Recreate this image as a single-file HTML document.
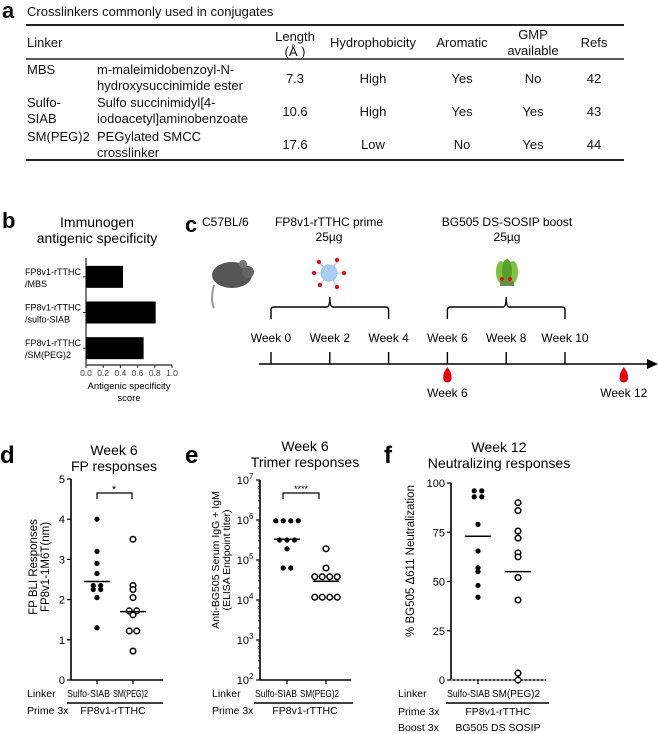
<!DOCTYPE html>
<html><head><meta charset="utf-8"><style>
body{margin:0;background:#fff}
svg{display:block;font-family:"Liberation Sans",Arial,sans-serif}
</style></head><body>
<svg id="fig" width="658" height="734" viewBox="0 0 658 734" xmlns="http://www.w3.org/2000/svg">
<g font-size="13" fill="#111">
<text x="2" y="18" font-size="22" font-weight="bold">a</text>
<text x="27" y="16">Crosslinkers commonly used in conjugates</text>
<line x1="26" y1="25" x2="624" y2="25" stroke="#222" stroke-width="2"/>
<line x1="26" y1="59" x2="624" y2="59" stroke="#222" stroke-width="1.5"/>
<line x1="26" y1="160" x2="624" y2="160" stroke="#222" stroke-width="2"/>
<g>
<text x="27" y="47">Linker</text>
<text x="295" y="41" text-anchor="middle">Length</text>
<text x="295" y="56" text-anchor="middle">(Å )</text>
<text x="373" y="47" text-anchor="middle">Hydrophobicity</text>
<text x="462" y="47" text-anchor="middle">Aromatic</text>
<text x="533" y="39" text-anchor="middle">GMP</text>
<text x="533" y="55" text-anchor="middle">available</text>
<text x="594" y="47" text-anchor="middle">Refs</text>
</g>
<g>
<text x="27" y="74">MBS</text>
<text x="97" y="74">m-maleimidobenzoyl-N-</text>
<text x="97" y="90">hydroxysuccinimide ester</text>
<text x="295" y="83" text-anchor="middle">7.3</text>
<text x="373" y="83" text-anchor="middle">High</text>
<text x="462" y="83" text-anchor="middle">Yes</text>
<text x="533" y="83" text-anchor="middle">No</text>
<text x="594" y="83" text-anchor="middle">42</text>
</g>
<g>
<text x="27" y="107">Sulfo-</text>
<text x="27" y="123">SIAB</text>
<text x="97" y="107">Sulfo succinimidyl[4-</text>
<text x="97" y="123">iodoacetyl]aminobenzoate</text>
<text x="295" y="116" text-anchor="middle">10.6</text>
<text x="373" y="116" text-anchor="middle">High</text>
<text x="462" y="116" text-anchor="middle">Yes</text>
<text x="533" y="116" text-anchor="middle">Yes</text>
<text x="594" y="116" text-anchor="middle">43</text>
</g>
<g>
<text x="27" y="141">SM(PEG)2</text>
<text x="97" y="141">PEGylated SMCC</text>
<text x="97" y="157">crosslinker</text>
<text x="295" y="149" text-anchor="middle">17.6</text>
<text x="373" y="149" text-anchor="middle">Low</text>
<text x="462" y="149" text-anchor="middle">No</text>
<text x="533" y="149" text-anchor="middle">Yes</text>
<text x="594" y="149" text-anchor="middle">44</text>
</g>
</g>

<g id="pb">
<text x="2" y="228" font-size="22" font-weight="bold">b</text>
<text x="97" y="227" font-size="14" text-anchor="middle">Immunogen</text>
<text x="97" y="243" font-size="14" text-anchor="middle">antigenic specificity</text>
<text x="129" y="389" font-size="9.5" text-anchor="middle">Antigenic specificity</text>
<text x="129" y="401" font-size="9.5" text-anchor="middle">score</text>
</g>

<g id="pc">
<text x="185" y="232" font-size="22" font-weight="bold">c</text>
<text x="202" y="226" font-size="12">C57BL/6</text>
<text x="329" y="226" font-size="12" text-anchor="middle">FP8v1-rTTHC prime</text>
<text x="329" y="241" font-size="12" text-anchor="middle">25µg</text>
<text x="507" y="226" font-size="12" text-anchor="middle">BG505 DS-SOSIP boost</text>
<text x="507" y="241" font-size="12" text-anchor="middle">25µg</text>
<g>
<path d="M214 285 Q210 300 214 308" stroke="#999" stroke-width="2" fill="none"/>
<ellipse cx="232" cy="275" rx="20" ry="13" fill="#555"/>
<ellipse cx="248" cy="272" rx="6" ry="6" fill="#666"/>
<circle cx="243" cy="264" r="4" fill="#777"/>
</g>
<g stroke="#9bc3e8" stroke-width="1">
<line x1="329" y1="273" x2="314" y2="273"/><line x1="329" y1="273" x2="344" y2="273"/>
<line x1="329" y1="273" x2="319" y2="262"/><line x1="329" y1="273" x2="337" y2="262"/>
<line x1="329" y1="273" x2="320" y2="285"/><line x1="329" y1="273" x2="337" y2="287"/>
<circle cx="329" cy="273" r="8" fill="#a9cdf0"/>
<g fill="#d9141b" stroke="none"><circle cx="314" cy="273" r="2.2"/><circle cx="344" cy="273" r="2.2"/><circle cx="319" cy="262" r="2.2"/><circle cx="337" cy="260" r="2.2"/><circle cx="320" cy="285" r="2.2"/><circle cx="337" cy="287" r="2.2"/></g>
</g>
<g>
<ellipse cx="501" cy="272" rx="5" ry="11" fill="#7cc142"/>
<ellipse cx="513" cy="272" rx="5" ry="11" fill="#7cc142"/>
<ellipse cx="507" cy="271" rx="5" ry="12" fill="#5aa02c"/>
<rect x="500" y="281" width="14" height="5" fill="#6c8a4a"/>
<circle cx="502" cy="279" r="2" fill="#d9141b"/><circle cx="510" cy="279" r="2" fill="#d9141b"/>
</g>
</g>

<text x="0" y="463" font-size="24" font-weight="bold">d</text>
<text x="185" y="463" font-size="24" font-weight="bold">e</text>
<text x="384" y="463" font-size="24" font-weight="bold">f</text>
<g id="pd"></g>
<g id="pe"></g>
<g id="pf"></g>
</svg>
<script>
// ---------- Panel b data ----------
const bCategories = ["FP8v1-rTTHC|/MBS", "FP8v1-rTTHC|/sulfo-SIAB", "FP8v1-rTTHC|/SM(PEG)2"];
const bValues = [0.43, 0.81, 0.67];
const bTicks = [0.0, 0.2, 0.4, 0.6, 0.8, 1.0];

// ---------- Timeline data ----------
const weeks = [0, 2, 4, 6, 8, 10];
const bleedWeeks = [6, 12];
const primeWeeks = [0, 4];
const boostWeeks = [6, 10];

// ---------- Panel d data ----------
const dCategories = ["Sulfo-SIAB", "SM(PEG)2"];
const dSulfo = [4.0, 3.2, 2.9, 2.65, 2.35, 2.35, 2.25, 2.25, 2.05, 1.3];
const dSm = [3.5, 2.35, 2.25, 2.05, 1.72, 1.72, 1.62, 1.22, 1.22, 0.72];
const dMedians = [2.45, 1.7];
const dTicks = [0, 1, 2, 3, 4, 5];

// ---------- Panel e data (log10 titer) ----------
const eCategories = ["Sulfo-SIAB", "SM(PEG)2"];
const eSulfo = [5.98, 5.98, 5.98, 5.98, 5.5, 5.5, 5.5, 5.28, 4.8, 4.8];
const eSm = [5.28, 4.8, 4.58, 4.58, 4.58, 4.58, 4.07, 4.07, 4.07, 4.07];
const eMedians = [5.52, 4.47];
const eTicks = [2, 3, 4, 5, 6, 7];

// ---------- Panel f data ----------
const fCategories = ["Sulfo-SIAB", "SM(PEG)2"];
const fSulfo = [96, 95, 93, 93, 79, 65.5, 57, 55, 48, 42];
const fSm = [90, 86, 75.6, 72, 64.5, 62.5, 52, 40.6, 3.5, 0];
const fMedians = [73, 55];
const fTicks = [0, 25, 50, 75, 100];

const NS = "http://www.w3.org/2000/svg";
function mk(parent, tag, attrs, text) {
  const e = document.createElementNS(NS, tag);
  for (const k in attrs) e.setAttribute(k, attrs[k]);
  if (text !== undefined) e.textContent = text;
  parent.appendChild(e);
  return e;
}

(function () {
  const g = document.getElementById("pb");
  const x0 = 86, x1 = 172, yTop = 258, yBot = 365;
  const xs = v => x0 + (v / 1.0) * (x1 - x0);
  const band = (yBot - yTop) / bCategories.length;
  let ax = mk(g, "line", {x1: x0, y1: yTop, x2: x0, y2: yBot, stroke: "#222", "stroke-width": 1.2});
  
  
  let xa = mk(g, "line", {x1: x0, y1: yBot, x2: x1, y2: yBot, stroke: "#222", "stroke-width": 1.2});
  
  
  bTicks.forEach(t => {
    mk(g, "line", {x1: xs(t), y1: yBot, x2: xs(t), y2: yBot + 3, stroke: "#222"});
    const tl = mk(g, "text", {x: xs(t), y: yBot + 11, "font-size": 8.5, "text-anchor": "middle", fill: "#444"}, t.toFixed(1));
    
    
  });
  bCategories.forEach((c, i) => {
    const cy = yTop + band * (i + 0.5) + 1;
    const bar = mk(g, "rect", {x: x0, y: cy - 11, width: xs(bValues[i]) - x0, height: 22, fill: "#000"});
    
    
    mk(g, "line", {x1: x0 - 3, y1: cy, x2: x0, y2: cy, stroke: "#222"});
    const parts = c.split("|");
    const l1 = mk(g, "text", {x: 25, y: cy - 2, "font-size": 9}, parts[0]);
    
    
    mk(g, "text", {x: 25, y: cy + 10, "font-size": 9}, parts[1]);
  });
})();

(function () {
  const g = document.getElementById("pc");
  const xw = w => 271 + (w / 2) * 58.8;
  const y = 364;
  const tl = mk(g, "line", {x1: 259, y1: y, x2: 650, y2: y, stroke: "#000", "stroke-width": 1.6});
  
  
  mk(g, "path", {d: "M647 359 L658 364 L647 369 Z", fill: "#000"});
  weeks.forEach(w => {
    mk(g, "line", {x1: xw(w), y1: y - 12, x2: xw(w), y2: y, stroke: "#000", "stroke-width": 1.4});
    const t = mk(g, "text", {x: xw(w), y: 342, "font-size": 12, "text-anchor": "middle"}, "Week " + w);
    
    
  });
  [primeWeeks, boostWeeks].forEach(p => {
    const a = xw(p[0]), b = xw(p[1]), m = (a + b) / 2;
    const br = mk(g, "path", {d: `M${a} 319 L${a} 310 Q${a} 307 ${a+3} 307 L${m-3} 307 Q${m} 307 ${m} 297 Q${m} 307 ${m+3} 307 L${b-3} 307 Q${b} 307 ${b} 310 L${b} 319`, fill: "none", stroke: "#000", "stroke-width": 1.4});
    
    
  });
  bleedWeeks.forEach(w => {
    const x = xw(w);
    const d = mk(g, "path", {d: `M${x} 367 Q${x+5} 374 ${x+4} 377 A4.2 4.2 0 1 1 ${x-4} 377 Q${x-5} 374 ${x} 367 Z`, fill: "#e3000f"});
    
    
    mk(g, "text", {x: x, y: 397, "font-size": 12, "text-anchor": "middle"}, "Week " + w);
  });
})();

function dotPanel(gid, cfg) {
  const g = document.getElementById(gid);
  const {ax, xEnd, yTop, yBot, vMin, vMax, cx, ticks, tickFmt, series, medians, cats, prefix, labelBox} = cfg;
  const ys = v => yBot - (v - vMin) / (vMax - vMin) * (yBot - yTop);
  const a1 = mk(g, "line", {x1: ax, y1: yTop, x2: ax, y2: yBot, stroke: "#000", "stroke-width": 1.6});
  
  
  const a2 = mk(g, "line", {x1: ax, y1: yBot, x2: xEnd, y2: yBot, stroke: "#000", "stroke-width": 1.6});
  
  
  ticks.forEach(t => {
    mk(g, "line", {x1: ax - 4, y1: ys(t), x2: ax, y2: ys(t), stroke: "#000", "stroke-width": 1.2});
    const tl = tickFmt(g, ax - 6, ys(t), t);
    
    
  });
  if (cfg.minor) cfg.minor(g, ys);
  cats.forEach((c, i) => {
    mk(g, "line", {x1: cx[i], y1: yBot, x2: cx[i], y2: yBot + 4, stroke: "#000", "stroke-width": 1.2});
    const cl = mk(g, "text", {x: labelBox[i][0], y: 697, "font-size": 10.5, textLength: labelBox[i][1], lengthAdjust: "spacingAndGlyphs"}, c);
    
    
  });
  series.forEach((vals, i) => {
    const rows = [];
    vals.forEach(v => {
      const py = ys(v);
      let r = rows.find(r => Math.abs(r.y - py) < 3);
      if (r) r.n++; else rows.push({y: py, n: 1});
    });
    rows.forEach(r => {
      for (let k = 0; k < r.n; k++) {
        const x = cx[i] + (k - (r.n - 1) / 2) * 7.5;
        const dot = mk(g, "circle", {cx: x, cy: r.y, r: i === 0 ? 2.6 : 2.8,
          fill: i === 0 ? "#000" : "#fff", stroke: "#000", "stroke-width": i === 0 ? 0 : 1.5});
        
        
      }
    });
    const ml = mk(g, "line", {x1: cx[i] - 13, y1: ys(medians[i]), x2: cx[i] + 13, y2: ys(medians[i]), stroke: "#000", "stroke-width": 1.5});
    
    
  });
  return ys;
}
function plainTick(g, x, y, t) {
  return mk(g, "text", {x: x, y: y + 4, "font-size": 11, "text-anchor": "end"}, String(t));
}

(function () {
  const g = document.getElementById("pd");
  dotPanel("pd", {ax: 71, xEnd: 163, yTop: 479, yBot: 680, vMin: 0, vMax: 5, cx: [97, 133],
    labelBox: [[67, 43], [113, 35]],
    ticks: dTicks, tickFmt: plainTick, series: [dSulfo, dSm], medians: dMedians, cats: dCategories, prefix: "panel-d"});
  mk(g, "text", {x: 114, y: 455, "font-size": 14, "text-anchor": "middle"}, "Week 6");
  const t = mk(g, "text", {x: 114, y: 471, "font-size": 14, "text-anchor": "middle"}, "FP responses");
  
  
  mk(g, "path", {d: "M97 499 L97 493 L132 493 L132 499", fill: "none", stroke: "#000", "stroke-width": 1.2});
  mk(g, "text", {x: 114, y: 493, "font-size": 11, "text-anchor": "middle"}, "*");
  const yl = mk(g, "text", {transform: "translate(37,567) rotate(-90)", "font-size": 11.5, "text-anchor": "middle"}, "FP BLI Responses");
  
  
  mk(g, "text", {transform: "translate(49,567) rotate(-90)", "font-size": 11.5, "text-anchor": "middle"}, "FP8v1-1M6T(nm)");
  mk(g, "text", {x: 27, y: 697, "font-size": 10.5}, "Linker");
  mk(g, "line", {x1: 67, y1: 703, x2: 163, y2: 703, stroke: "#000", "stroke-width": 1.4});
  mk(g, "text", {x: 27, y: 714, "font-size": 10.5}, "Prime 3x");
  mk(g, "text", {x: 113, y: 714, "font-size": 10.5, "text-anchor": "middle"}, "FP8v1-rTTHC");
})();

(function () {
  const g = document.getElementById("pe");
  dotPanel("pe", {ax: 260, xEnd: 351, yTop: 480, yBot: 680, vMin: 2, vMax: 7, cx: [287, 326],
    labelBox: [[255, 42], [300, 39]],
    ticks: eTicks, series: [eSulfo, eSm], medians: eMedians, cats: eCategories, prefix: "panel-e",
    tickFmt: (g, x, y, t) => {
      const tx = mk(g, "text", {x: x - 5, y: y + 4, "font-size": 11, "text-anchor": "end"}, "10");
      mk(g, "text", {x: x - 5, y: y - 1, "font-size": 8, "text-anchor": "start"}, String(t));
      return tx;
    },
    minor: (g, ys) => {
      for (let d = 2; d < 7; d++) for (let m = 2; m < 10; m++) {
        const y = ys(d + Math.log10(m));
        mk(g, "line", {x1: 258, y1: y, x2: 260, y2: y, stroke: "#000", "stroke-width": 0.8});
      }
    }});
  mk(g, "text", {x: 305, y: 451, "font-size": 14, "text-anchor": "middle"}, "Week 6");
  const t = mk(g, "text", {x: 305, y: 467, "font-size": 14, "text-anchor": "middle"}, "Trimer responses");
  
  
  mk(g, "path", {d: "M283 499 L283 493 L319 493 L319 499", fill: "none", stroke: "#000", "stroke-width": 1.2});
  mk(g, "text", {x: 301, y: 492, "font-size": 9, "text-anchor": "middle"}, "****");
  const yl = mk(g, "text", {transform: "translate(219,560) rotate(-90)", "font-size": 10.5, "text-anchor": "middle"}, "Anti-BG505 Serum IgG + IgM");
  
  
  mk(g, "text", {transform: "translate(230,560) rotate(-90)", "font-size": 10.5, "text-anchor": "middle"}, "(ELISA Endpoint  titer)");
  mk(g, "text", {x: 212, y: 697, "font-size": 10.5}, "Linker");
  mk(g, "line", {x1: 254, y1: 703, x2: 353, y2: 703, stroke: "#000", "stroke-width": 1.4});
  mk(g, "text", {x: 212, y: 714, "font-size": 10.5}, "Prime 3x");
  mk(g, "text", {x: 305, y: 714, "font-size": 10.5, "text-anchor": "middle"}, "FP8v1-rTTHC");
})();

(function () {
  const g = document.getElementById("pf");
  const ys = dotPanel("pf", {ax: 451, xEnd: 546, yTop: 483, yBot: 680, vMin: 0, vMax: 100, cx: [478, 518],
    labelBox: [[447, 43], [492, 48]],
    ticks: fTicks, tickFmt: plainTick, series: [fSulfo, fSm], medians: fMedians, cats: fCategories, prefix: "panel-f"});
  const dl = mk(g, "line", {x1: 451, y1: ys(0), x2: 546, y2: ys(0), stroke: "#fff", "stroke-width": 0.8, "stroke-dasharray": "2 2"});
  
  
  mk(g, "text", {x: 499, y: 452, "font-size": 14, "text-anchor": "middle"}, "Week 12");
  const t = mk(g, "text", {x: 499, y: 468, "font-size": 14, "text-anchor": "middle"}, "Neutralizing responses");
  
  
  const yl = mk(g, "text", {transform: "translate(414,561) rotate(-90)", "font-size": 11.5, "text-anchor": "middle"}, "% BG505 Δ611 Neutralization");
  
  
  mk(g, "text", {x: 398, y: 697, "font-size": 10.5}, "Linker");
  mk(g, "line", {x1: 446, y1: 703, x2: 549, y2: 703, stroke: "#000", "stroke-width": 1.4});
  mk(g, "text", {x: 398, y: 715, "font-size": 10.5}, "Prime 3x");
  mk(g, "text", {x: 498, y: 715, "font-size": 10.5, "text-anchor": "middle"}, "FP8v1-rTTHC");
  mk(g, "text", {x: 398, y: 731, "font-size": 10.5}, "Boost 3x");
  mk(g, "text", {x: 498, y: 731, "font-size": 10.5, "text-anchor": "middle"}, "BG505 DS SOSIP");
})();
</script>
</body></html>
